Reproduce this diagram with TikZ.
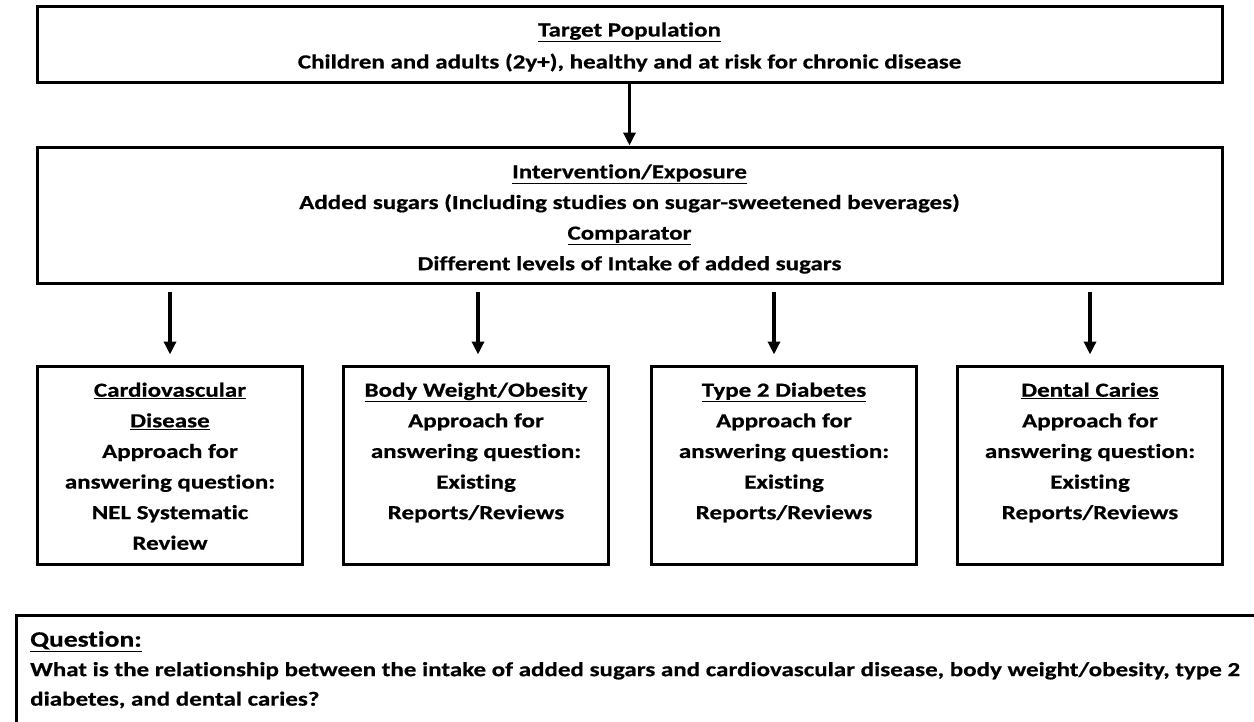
\documentclass[tikz,border=0pt]{standalone}
\usepackage{fontspec}
\setmainfont{Carlito}[FakeStretch=1.25,Ligatures=NoCommon,BoldFeatures={FakeBold=0.6}]
\usetikzlibrary{arrows.meta,calc}
\begin{document}
\begin{tikzpicture}[x=1pt,y=-1pt,
  box/.style={draw=black,line width=3pt,rectangle,minimum width=#1,inner sep=0pt},
  txt/.style={font=\bfseries\fontsize{20}{30.6}\selectfont,align=center,inner sep=0pt},
  arr/.style={line width=3.5pt,-{Triangle[length=13pt,width=12pt]}}]
\useasboundingbox[fill=white] (0,0) rectangle (1254,721);
% top box
\node[box=1185pt,minimum height=76pt] (tb) at (629.5,44) {};
\node[txt,font=\bfseries\fontsize{20}{32}\selectfont] (tbt) at ([yshift=-3pt]tb.center) {\underline{Target Population}\\Children and adults (2y+), healthy and at risk for chronic disease};
% middle box
\node[box=1185pt,minimum height=136pt] (mb) at (629.5,215) {};
\node[txt] (mbt) at ([yshift=-4pt]mb.center) {\underline{Intervention/Exposure}\\Added sugars (Including studies on sugar-sweetened beverages)\\\underline{Comparator}\\Different levels of Intake of added sugars};
% small boxes
\node[box=265pt,minimum height=198pt] (b1) at (170,465) {};
\node[box=265pt,minimum height=198pt] (b2) at (476,465) {};
\node[box=265pt,minimum height=198pt] (b3) at (784,465) {};
\node[box=265pt,minimum height=198pt] (b4) at (1090,465) {};
\node[txt,anchor=north] (t1) at ([yshift=-18pt]b1.north) {\underline{Cardiovascular}\\\underline{Disease}\\Approach for\\answering question:\\NEL Systematic\\Review};
\node[txt,anchor=north] (t2) at ([yshift=-18pt]b2.north) {\underline{Body Weight/Obesity}\\Approach for\\answering question:\\Existing\\Reports/Reviews};
\node[txt,anchor=north] (t3) at ([yshift=-18pt]b3.north) {\underline{Type 2 Diabetes}\\Approach for\\answering question:\\Existing\\Reports/Reviews};
\node[txt,anchor=north] (t4) at ([yshift=-18pt]b4.north) {\underline{Dental Caries}\\Approach for\\answering question:\\Existing\\Reports/Reviews};
% question box
\draw[line width=3pt] (16,615) rectangle (1275,760);
\coordinate (qa) at (30,631);
\node[txt,align=left,anchor=north west,font=\bfseries\fontsize{20}{29.5}\selectfont] (qt) at (qa) {{\fontsize{22}{29.5}\selectfont\underline{Question:}}\\What is the relationship between the intake of added sugars and cardiovascular disease, body weight/obesity, type 2\\diabetes, and dental caries?};
% arrows
\draw[arr] (tb.south) -- (mb.north);
\draw[arr,shorten <=7pt,shorten >=10pt] (b1.north |- mb.south) -- (b1.north);
\draw[arr,shorten <=7pt,shorten >=10pt] ([xshift=2pt]b2.north |- mb.south) -- ([xshift=2pt]b2.north);
\draw[arr,shorten <=7pt,shorten >=10pt] ([xshift=-10pt]b3.north |- mb.south) -- ([xshift=-10pt]b3.north);
\draw[arr,shorten <=7pt,shorten >=10pt] (b4.north |- mb.south) -- (b4.north);
\end{tikzpicture}
\end{document}
